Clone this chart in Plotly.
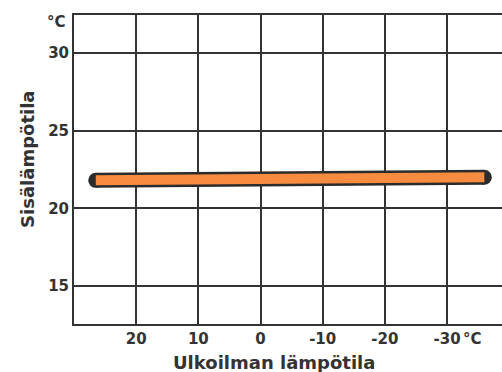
import plotly.graph_objects as go

# Data
outdoor_temp = [26.5, -36.0]
indoor_temp = [21.8, 22.0]
x_ticks = [20, 10, 0, -10, -20, -30]
x_tick_labels = ["20", "10", "0", "-10", "-20", "-30"]
y_ticks = [15, 20, 25, 30]
y_tick_labels = ["15", "20", "25", "30"]

DARK = "#333333"
ORANGE = "#f78c40"
FONT = "DejaVu Sans"

fig = go.Figure()
# black outline with rounded ends
fig.add_trace(go.Scatter(x=outdoor_temp, y=indoor_temp, mode="lines+markers",
                         line=dict(color="#2b2b2b", width=15),
                         marker=dict(color="#2b2b2b", size=15, line=dict(width=0)),
                         hoverinfo="skip", showlegend=False))
# orange inner line
fig.add_trace(go.Scatter(x=outdoor_temp, y=indoor_temp, mode="lines",
                         line=dict(color=ORANGE, width=10),
                         showlegend=False))

fig.update_layout(
    width=502, height=372,
    margin=dict(l=74, r=0, t=15, b=48),
    paper_bgcolor="white", plot_bgcolor="white",
    font=dict(family=FONT, color=DARK),
    xaxis=dict(range=[30, -38.84], tickvals=x_ticks, ticktext=x_tick_labels,
               showgrid=True, gridcolor=DARK, gridwidth=2,
               showline=True, linecolor=DARK, linewidth=2, mirror=True,
               zeroline=False, ticks="", ticklen=0, automargin=False,
               tickfont=dict(family=FONT, size=15, color=DARK, weight="bold")),
    yaxis=dict(range=[12.55, 32.45], tickvals=y_ticks, ticktext=y_tick_labels,
               showgrid=True, gridcolor=DARK, gridwidth=2,
               showline=True, linecolor=DARK, linewidth=2, mirror=False,
               zeroline=False, ticks="", ticklen=0, automargin=False,
               tickfont=dict(family=FONT, size=15, color=DARK, weight="bold")),
    annotations=[
        dict(text="<b>°C</b>", xref="paper", yref="y", x=0, y=32.0,
             xanchor="right", yanchor="middle", xshift=-6, showarrow=False,
             font=dict(family=FONT, size=15, color=DARK)),
        dict(text="<b>°C</b>", xref="x", yref="paper", x=-30, y=0,
             xanchor="left", yanchor="middle", xshift=14, yshift=-15, showarrow=False,
             font=dict(family=FONT, size=15, color=DARK)),
        dict(text="<b>Ulkoilman lämpötila</b>", xref="paper", yref="paper",
             x=0.467, y=0, xanchor="center", yanchor="middle", yshift=-38,
             showarrow=False, font=dict(family=FONT, size=18, color=DARK)),
        dict(text="<b>Sisälämpötila</b>", xref="paper", yref="paper",
             x=0, y=0.531, xanchor="center", yanchor="middle", xshift=-46,
             textangle=-90, showarrow=False,
             font=dict(family=FONT, size=18, color=DARK)),
    ],
)

fig.write_html("out.html", config={"displayModeBar": False},
               post_script="document.body.style.margin='0';")
